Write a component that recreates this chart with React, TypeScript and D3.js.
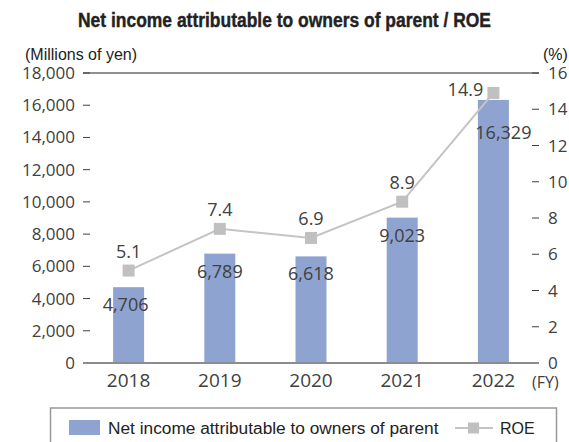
import * as d3 from "d3";

const years = ["2018", "2019", "2020", "2021", "2022"];
const netIncome = [4706, 6789, 6618, 9023, 16329];
const roe = [5.1, 7.4, 6.9, 8.9, 14.9];
const leftTicks = [0, 2000, 4000, 6000, 8000, 10000, 12000, 14000, 16000, 18000];
const rightTicks = [0, 2, 4, 6, 8, 10, 12, 14, 16];

// label nudges (px) where the original moved a label off its default spot
const barLabelShift = [[-3, 0], [0, 0], [0, 0], [0, 0], [10, 15]];
const roeLabelShift = [[0, 0], [0, 0], [0, 0], [0, 0], [-28, 16]];

const W = 569, H = 442;
const left = 83, right = 539, top = 73, bottom = 363;
const numFont = "'Open Sans', 'Noto Sans', sans-serif";
const txtFont = "'Liberation Sans', Arial, sans-serif";
const ink = "#404040";

export default function App() {
  const x = d3.scaleBand().domain(years).range([left, right]).paddingInner(0.66).paddingOuter(0.33);
  const yL = d3.scaleLinear().domain([0, 18000]).range([bottom, top]);
  const yR = d3.scaleLinear().domain([0, 16]).range([bottom, top]);
  const cx = (d: string) => (x(d) as number) + x.bandwidth() / 2;
  const fmt = d3.format(",");

  const line = d3.line<number>()
    .x((_, i) => cx(years[i]))
    .y(d => yR(d));

  return (
    <svg width={W} height={H} style={{ position: "absolute", left: 0, top: 0, background: "#fff" }}>
      {/* title */}
      <text x={W / 2} y={27} textAnchor="middle" fontFamily="'Liberation Sans Narrow', 'Liberation Sans', Arial"
        fontWeight="bold" fontSize={20} fill="#222" stroke="#222" strokeWidth={0.4}
        textLength={413} lengthAdjust="spacingAndGlyphs">
        Net income attributable to owners of parent / ROE
      </text>

      {/* unit labels */}
      <text x={25} y={60} fontFamily={txtFont} fontSize={16} fill="#222">(Millions of yen)</text>
      <text x={543} y={60} fontFamily={txtFont} fontSize={16} fill="#222">(%)</text>

      {/* top frame line */}
      <line x1={left} x2={right} y1={top} y2={top} stroke="#222" strokeWidth={1} />

      {/* left axis */}
      {leftTicks.map(t => (
        <g key={"l" + t}>
          <line x1={left} x2={left + 7} y1={yL(t)} y2={yL(t)} stroke={ink} strokeWidth={1} />
          <text x={75} y={yL(t) + 6} textAnchor="end" fontFamily={numFont} fontSize={17} fill={ink}>{fmt(t)}</text>
        </g>
      ))}

      {/* right axis */}
      {rightTicks.map(t => (
        <g key={"r" + t}>
          <line x1={right - 7} x2={right} y1={yR(t)} y2={yR(t)} stroke={ink} strokeWidth={1} />
          <text x={548} y={yR(t) + 6} fontFamily={numFont} fontSize={17} fill={ink}>{t}</text>
        </g>
      ))}

      {/* bars */}
      {netIncome.map((v, i) => (
        <rect key={"b" + i} x={x(years[i])} y={yL(v)} width={x.bandwidth()} height={bottom - yL(v)} fill="#8fa3d0" />
      ))}

      {/* baseline */}
      <line x1={left} x2={right} y1={bottom} y2={bottom} stroke="#8c8c8c" strokeWidth={2} />

      {/* year labels */}
      {years.map(d => (
        <text key={"y" + d} x={cx(d)} y={387} textAnchor="middle" fontFamily={numFont} fontSize={19} fill={ink}>{d}</text>
      ))}
      <text x={532} y={388} fontFamily={numFont} fontSize={16} fill={ink}>(FY)</text>

      {/* ROE line */}
      <path d={line(roe) || ""} fill="none" stroke="#c4c4c4" strokeWidth={2} />
      {roe.map((v, i) => (
        <rect key={"m" + i} x={cx(years[i]) - 6} y={yR(v) - 6} width={12} height={12} fill="#c0c0c0" />
      ))}

      {/* bar value labels */}
      {netIncome.map((v, i) => (
        <text key={"bl" + i} x={cx(years[i]) + barLabelShift[i][0]} y={yL(v) + 24 + barLabelShift[i][1]}
          textAnchor="middle" fontFamily={numFont} fontSize={18} fill={ink}>{fmt(v)}</text>
      ))}

      {/* ROE value labels */}
      {roe.map((v, i) => (
        <text key={"rl" + i} x={cx(years[i]) + roeLabelShift[i][0]} y={yR(v) - 13 + roeLabelShift[i][1]}
          textAnchor="middle" fontFamily={numFont} fontSize={18} fill={ink}>{v.toFixed(1)}</text>
      ))}

      {/* legend */}
      <rect x={50.5} y={408} width={506} height={50} fill="none" stroke="#999" strokeWidth={1.5} />
      <rect x={69} y={420} width={31} height={15} fill="#8fa3d0" />
      <text x={108} y={434} fontFamily={txtFont} fontSize={17.3} fill="#222">Net income attributable to owners of parent</text>
      <line x1={455} x2={493} y1={428} y2={428} stroke="#c4c4c4" strokeWidth={2} />
      <rect x={468} y={422.5} width={11} height={11} fill="#c0c0c0" />
      <text x={500} y={434} fontFamily={txtFont} fontSize={16} fill="#222">ROE</text>
    </svg>
  );
}
